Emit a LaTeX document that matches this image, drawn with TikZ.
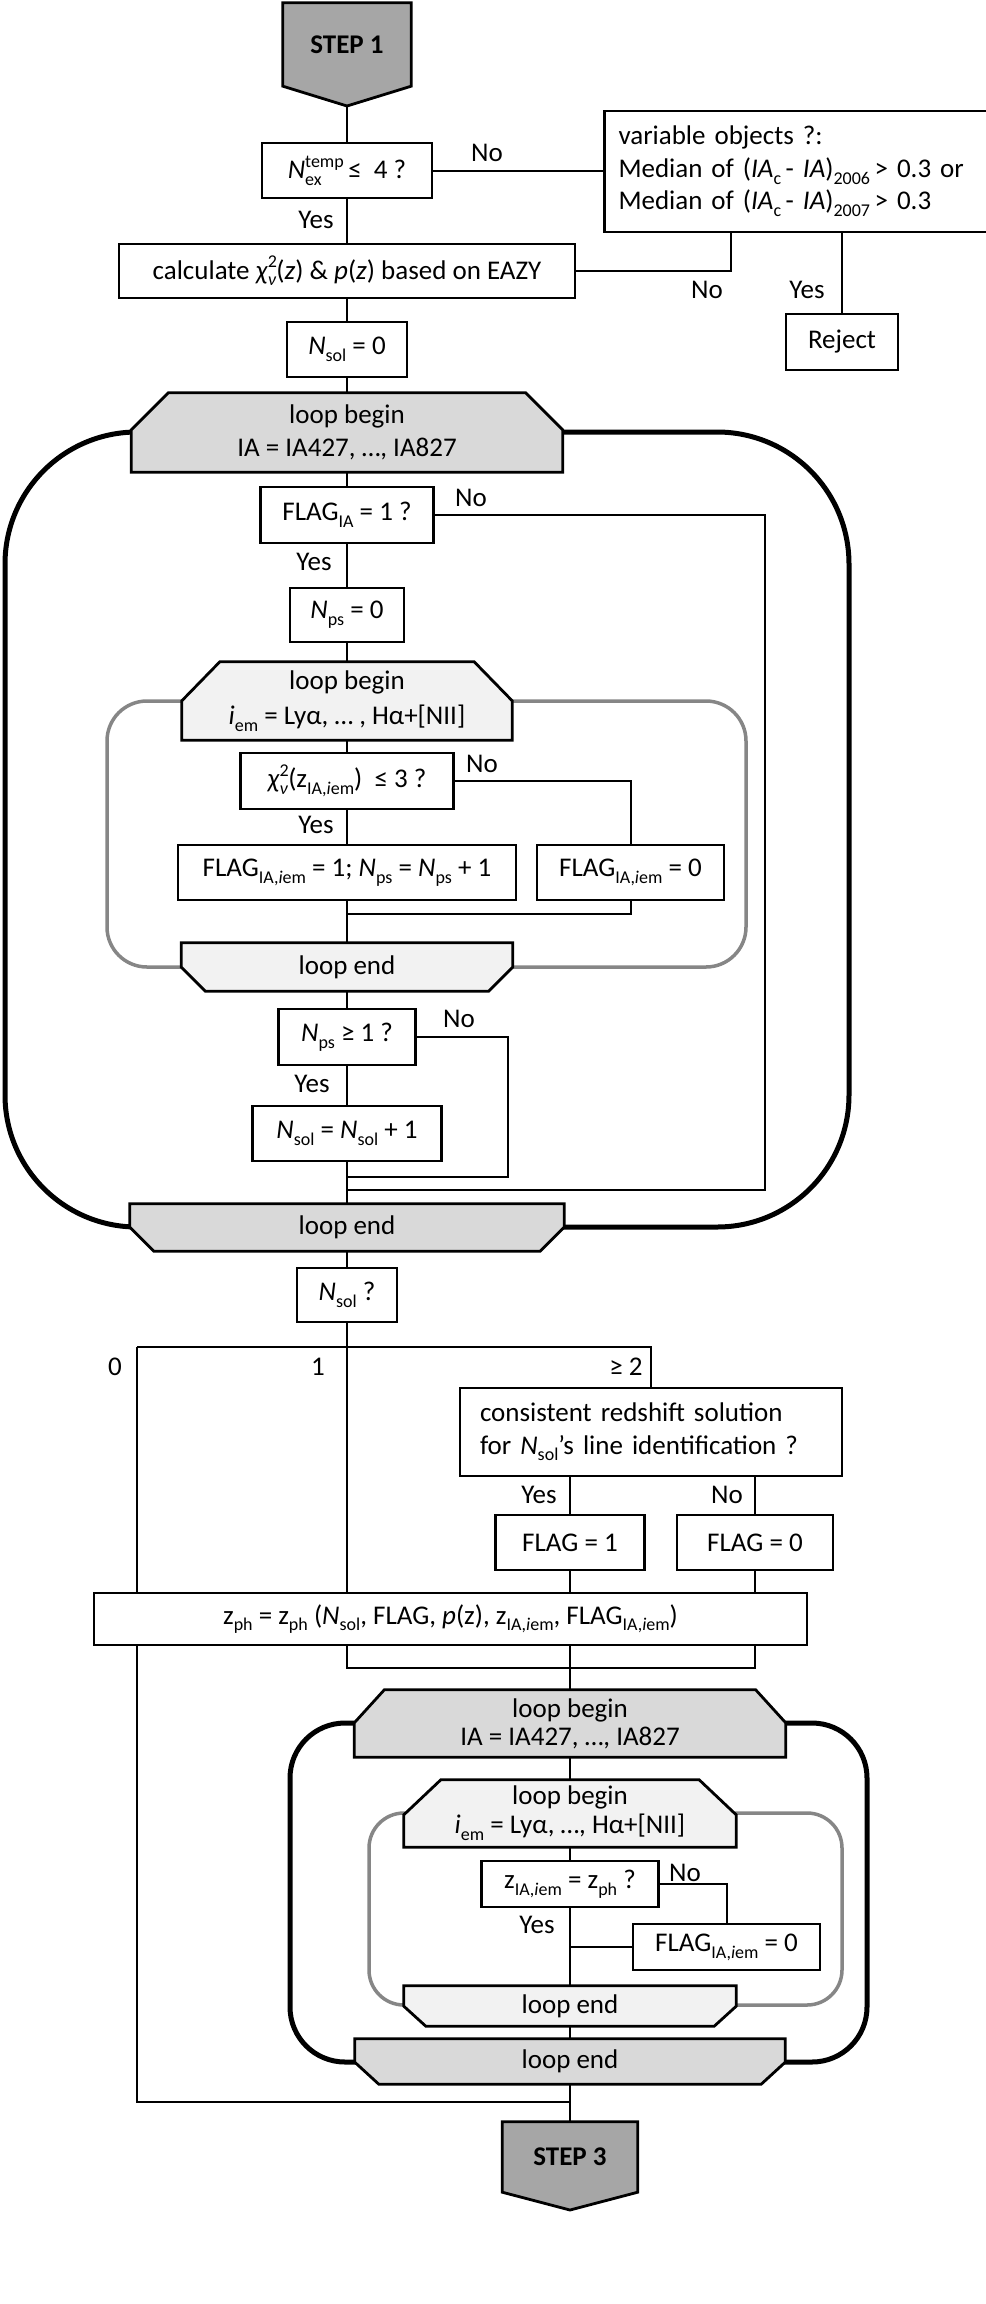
\documentclass[tikz,border=0pt]{standalone}
\usepackage{fontspec}
\setmainfont{Carlito}
\usetikzlibrary{calc}
\definecolor{stepgray}{HTML}{A6A6A6}
\definecolor{loopA}{HTML}{D9D9D9}
\definecolor{loopB}{HTML}{F2F2F2}
\definecolor{loopgray}{HTML}{868686}
\newcommand{\fsz}{\fontsize{27}{32.5}\selectfont}
\newcommand{\lo}[1]{\raisebox{-0.25em}{\fontsize{18}{18}\selectfont #1}}
\newcommand{\hi}[1]{\raisebox{0.42em}{\fontsize{18}{18}\selectfont #1}}
\newcommand{\IAi}{IA,\textit{i}em}
\pgfdeclarelayer{loops}\pgfdeclarelayer{lines}\pgfdeclarelayer{shapes}
\pgfsetlayers{loops,lines,shapes,main}
\begin{document}
\begin{tikzpicture}[x=1pt,y=-1pt,
 box/.style={draw, line width=2.8pt, fill=white, inner sep=0pt, align=center, font=\fsz},
 lbl/.style={inner sep=0pt, font=\fsz},
 conn/.style={line width=2pt},
 shp/.style={line width=2.8pt},
 tnode/.style={inner sep=0pt, align=center, font=\fsz},
 bigloop/.style={line width=5pt},
 smallloop/.style={line width=3.5pt, draw=loopgray},
]
\useasboundingbox (0,0) rectangle (985,2304);

% ---------- nodes ----------
\node[tnode, minimum width=128, minimum height=83, font=\fsz\bfseries] (step1) at (347,44.5) {STEP 1};
\coordinate (step1tip) at (347,106);
\node[box, minimum width=170, minimum height=55] (nex) at (347,170.5) {\textit{N}\rlap{\lo{ex}}\hi{temp}\,≤\ \ 4 ?};
\node[box, minimum width=383, minimum height=121, text width=355, align=left] (var) at (796,171.5)
  {variable objects ?:\\Median of (\textit{IA}\lo{c}\,- \textit{IA})\lo{2006}\,> 0.3 or\\Median of (\textit{IA}\lo{c}\,- \textit{IA})\lo{2007}\,> 0.3};
\node[box, minimum width=456, minimum height=54] (calc) at (347,271)
  {calculate \textit{χ}\rlap{\hi{2}}\lo{\textit{ν}}(\textit{z}) \& \textit{p}(\textit{z}) based on EAZY};
\node[box, minimum width=112, minimum height=56] (rej) at (842,342) {Reject};
\node[box, minimum width=120, minimum height=55] (nsol0) at (347,349.5) {\textit{N}\lo{sol} = 0};
\node[tnode, minimum width=431, minimum height=79, font=\fontsize{27}{33}\selectfont] (lb1) at (347,432.5) {loop begin\\IA = IA427, …, IA827};
\node[box, minimum width=173, minimum height=56] (flagia) at (347,515) {FLAG\lo{IA} = 1 ?};
\node[box, minimum width=114, minimum height=54] (nps0) at (347,615) {\textit{N}\lo{ps} = 0};
\node[tnode, minimum width=330, minimum height=78, font=\fontsize{27}{35}\selectfont] (lb2) at (347,701) {loop begin\\\textit{i}\lo{em} = Lyα, … , Hα+[NII]};
\node[box, minimum width=213, minimum height=56] (chi) at (347,781)
  {\textit{χ}\rlap{\hi{2}}\lo{\textit{ν}}(z\lo{\IAi})\ \ ≤ 3 ?};
\node[box, minimum width=338, minimum height=55] (flag1) at (347,872.5)
  {FLAG\lo{\IAi} = 1; \textit{N}\lo{ps} = \textit{N}\lo{ps} + 1};
\node[box, minimum width=187, minimum height=55] (flag0) at (630.5,872.5) {FLAG\lo{\IAi} = 0};
\node[tnode, minimum width=331, minimum height=48] (le2) at (347,967) {loop end};
\node[box, minimum width=137, minimum height=56] (nps1) at (347,1037) {\textit{N}\lo{ps} ≥ 1 ?};
\node[box, minimum width=189, minimum height=55] (nsolinc) at (347,1133.5) {\textit{N}\lo{sol} = \textit{N}\lo{sol} + 1};
\node[tnode, minimum width=434, minimum height=47] (le1) at (347,1227.5) {loop end};
\node[box, minimum width=100, minimum height=54] (nsolq) at (347,1295) {\textit{N}\lo{sol} ?};
\node[box, minimum width=382, minimum height=88, text width=342, align=left] (cons) at (651,1432)
  {consistent redshift solution\\for \textit{N}\lo{sol}’s line identification ?};
\node[box, minimum width=149, minimum height=55] (flagy) at (570,1542.5) {FLAG = 1};
\node[box, minimum width=156, minimum height=55] (flagn) at (755,1542.5) {FLAG = 0};
\node[box, minimum width=713, minimum height=52] (zph) at (450.5,1619)
  {z\lo{ph} = z\lo{ph} (\textit{N}\lo{sol}, FLAG, \textit{p}(z), z\lo{\IAi}, FLAG\lo{\IAi})};
\node[tnode, minimum width=431, minimum height=67, font=\fontsize{27}{28}\selectfont] (lb3) at (570,1723.5) {loop begin\\IA = IA427, …, IA827};
\node[tnode, minimum width=332, minimum height=67, font=\fontsize{27}{29}\selectfont] (lb4) at (570,1813.5) {loop begin\\\textit{i}\lo{em} = Lyα, …, Hα+[NII]};
\node[box, minimum width=177, minimum height=46] (zbox) at (570,1884) {z\lo{\IAi} = z\lo{ph} ?};
\node[box, minimum width=187, minimum height=46] (flag0b) at (726.5,1947) {FLAG\lo{\IAi} = 0};
\node[tnode, minimum width=332, minimum height=40] (le4) at (570,2006) {loop end};
\node[tnode, minimum width=430, minimum height=45] (le3) at (570,2061.5) {loop end};
\node[tnode, minimum width=135, minimum height=70, font=\fsz\bfseries] (step3) at (570,2157) {STEP 3};
\coordinate (step3tip) at (570,2210);

% ---------- labels ----------
\node[lbl] (t1) at (487,153) {No};
\node[lbl] (t2) at (316,220) {Yes};
\node[lbl] (t3) at (707,290) {No};
\node[lbl] (t4) at (807,290) {Yes};
\node[lbl] (t5) at (471,498) {No};
\node[lbl] (t6) at (314,562) {Yes};
\node[lbl] (t7) at (482,764) {No};
\node[lbl] (t8) at (316,825) {Yes};
\node[lbl] (t9) at (459,1019) {No};
\node[lbl] (t10) at (312,1084) {Yes};
\node[lbl] (t11) at (115,1367) {0};
\node[lbl] (t12) at (318,1367) {1};
\node[lbl] (t13) at (626,1367) {≥ 2};
\node[lbl] (t14) at (539,1495) {Yes};
\node[lbl] (t15) at (727,1495) {No};
\node[lbl] (t16) at (685,1873) {No};
\node[lbl] (t17) at (537,1925) {Yes};

% ---------- loop-marker shapes ----------
\begin{pgfonlayer}{shapes}
\filldraw[shp, fill=stepgray] (step1.north west) -- (step1.north east) -- (step1.south east) -- (step1tip) -- (step1.south west) -- cycle;
\filldraw[shp, fill=stepgray] (step3.north west) -- (step3.north east) -- (step3.south east) -- (step3tip) -- (step3.south west) -- cycle;
% loop begin shapes
\filldraw[shp, fill=loopA] ($(lb1.north west)+(37,0)$) -- ($(lb1.north east)+(-37,0)$) -- ($(lb1.north east)+(0,37)$) -- (lb1.south east) -- (lb1.south west) -- ($(lb1.north west)+(0,37)$) -- cycle;
\filldraw[shp, fill=loopB] ($(lb2.north west)+(38,0)$) -- ($(lb2.north east)+(-38,0)$) -- ($(lb2.north east)+(0,39)$) -- (lb2.south east) -- (lb2.south west) -- ($(lb2.north west)+(0,39)$) -- cycle;
\filldraw[shp, fill=loopA] ($(lb3.north west)+(30,0)$) -- ($(lb3.north east)+(-30,0)$) -- ($(lb3.north east)+(0,33)$) -- (lb3.south east) -- (lb3.south west) -- ($(lb3.north west)+(0,33)$) -- cycle;
\filldraw[shp, fill=loopB] ($(lb4.north west)+(37,0)$) -- ($(lb4.north east)+(-37,0)$) -- ($(lb4.north east)+(0,35)$) -- (lb4.south east) -- (lb4.south west) -- ($(lb4.north west)+(0,35)$) -- cycle;
% loop end shapes
\filldraw[shp, fill=loopB] (le2.north west) -- (le2.north east) -- ($(le2.south east)+(0,-24)$) -- ($(le2.south east)+(-24,0)$) -- ($(le2.south west)+(24,0)$) -- ($(le2.south west)+(0,-24)$) -- cycle;
\filldraw[shp, fill=loopA] (le1.north west) -- (le1.north east) -- ($(le1.south east)+(0,-24)$) -- ($(le1.south east)+(-24,0)$) -- ($(le1.south west)+(24,0)$) -- ($(le1.south west)+(0,-24)$) -- cycle;
\filldraw[shp, fill=loopB] (le4.north west) -- (le4.north east) -- ($(le4.south east)+(0,-20)$) -- ($(le4.south east)+(-22,0)$) -- ($(le4.south west)+(22,0)$) -- ($(le4.south west)+(0,-20)$) -- cycle;
\filldraw[shp, fill=loopA] (le3.north west) -- (le3.north east) -- ($(le3.south east)+(0,-22)$) -- ($(le3.south east)+(-24,0)$) -- ($(le3.south west)+(24,0)$) -- ($(le3.south west)+(0,-22)$) -- cycle;
\end{pgfonlayer}

% ---------- loops ----------
\begin{pgfonlayer}{loops}
\draw[bigloop, rounded corners=132pt] (5,432) rectangle (849,1227);
\draw[smallloop, rounded corners=40pt] (107,701) rectangle (746,967);
\draw[bigloop, rounded corners=55pt] (290,1723) rectangle (867,2062);
\draw[smallloop, rounded corners=35pt] (369,1813) rectangle (842,2005);
\end{pgfonlayer}

% ---------- connectors ----------
\begin{pgfonlayer}{lines}
\draw[conn] (step1tip) -- (nex.north);
\draw[conn] (nex.east) -- (nex.east -| var.west);
\draw[conn] (nex.south) -- (calc.north);
\draw[conn] ([xshift=-65.5pt]var.south) |- (calc.east);
\draw[conn] (var.south -| rej.north) -- (rej.north);
\draw[conn] (calc.south) -- (nsol0.north);
\draw[conn] (nsol0.south) -- (lb1.north);
\draw[conn] (lb1.south) -- (flagia.north);
\coordinate (c1) at (765,1190);
\coordinate (j1) at (347,1190);
\draw[conn] (flagia.east) -| (c1) -- (j1);
\draw[conn] (flagia.south) -- (nps0.north);
\draw[conn] (nps0.south) -- (lb2.north);
\draw[conn] (lb2.south) -- (chi.north);
\draw[conn] (chi.east) -| (flag0.north);
\draw[conn] (chi.south) -- (flag1.north);
\coordinate (j2) at (347,914);
\draw[conn] (flag0.south) |- (j2);
\draw[conn] (flag1.south) -- (le2.north);
\draw[conn] (le2.south) -- (nps1.north);
\coordinate (c3) at (508,1177);
\coordinate (j3) at (347,1177);
\draw[conn] (nps1.east) -| (c3) -- (j3);
\draw[conn] (nps1.south) -- (nsolinc.north);
\draw[conn] (nsolinc.south) -- (le1.north);
\draw[conn] (le1.south) -- (nsolq.north);
\coordinate (split) at (347,1347);
\coordinate (s0) at (137,1347);
\coordinate (s2) at (651,1347);
\coordinate (j5) at (570,2102);
\draw[conn] (nsolq.south) -- (split);
\draw[conn] (s0) -- (s2) -- (cons.north);
\draw[conn] (s0) |- (j5);
\draw[conn] (split) -- (split |- zph.north);
\draw[conn] (cons.south -| flagy.north) -- (flagy.north);
\draw[conn] (cons.south -| flagn.north) -- (flagn.north);
\draw[conn] (flagy.south) -- (flagy.south |- zph.north);
\draw[conn] (flagn.south) -- (flagn.south |- zph.north);
\coordinate (m1) at (347,1668);
\coordinate (m2) at (755,1668);
\draw[conn] (zph.south -| m1) -- (m1) -- (m2) -- (zph.south -| m2);
\draw[conn] (zph.south -| lb3.north) -- (lb3.north);
\draw[conn] (lb3.south) -- (lb4.north);
\draw[conn] (lb4.south) -- (zbox.north);
\draw[conn] (zbox.east) -| (flag0b.north);
\draw[conn] (flag0b.west) -- (flag0b.west -| zbox.south);
\draw[conn] (zbox.south) -- (le4.north);
\draw[conn] (le4.south) -- (le3.north);
\draw[conn] (le3.south) -- (step3.north);
\end{pgfonlayer}
\end{tikzpicture}
\end{document}
